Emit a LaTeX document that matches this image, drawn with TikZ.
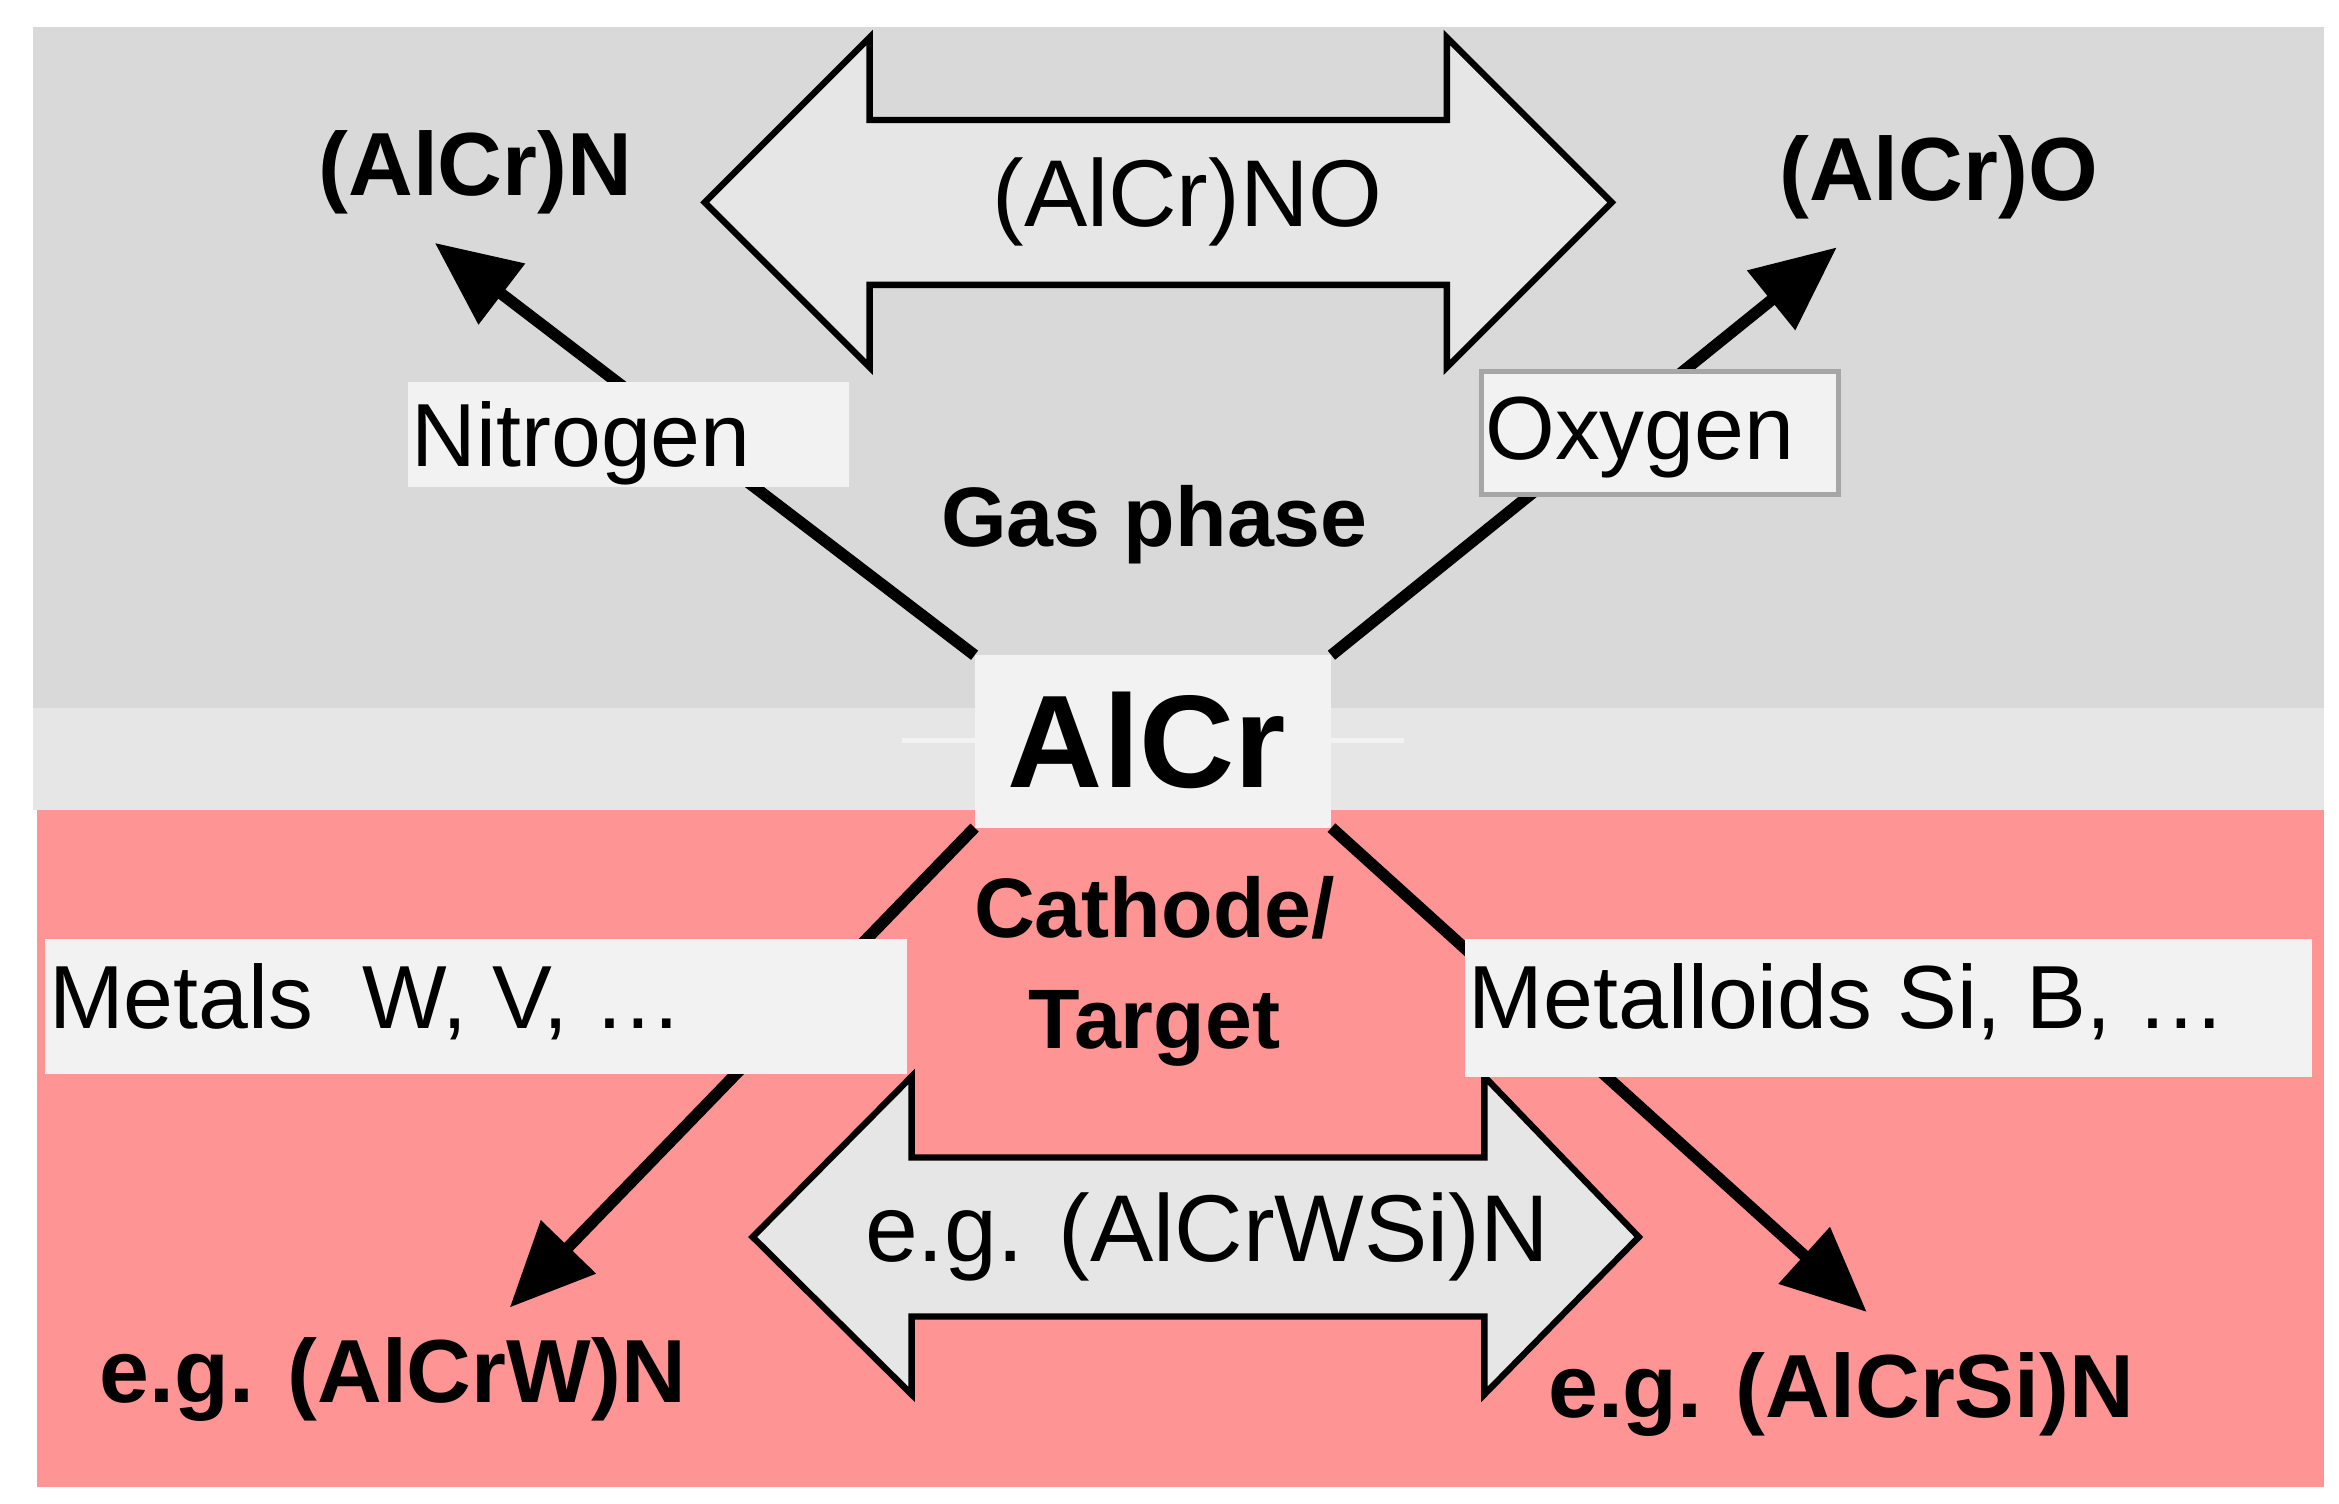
\documentclass[tikz,border=0pt]{standalone}
\usepackage{fontspec}
\setmainfont{Liberation Sans}
\usetikzlibrary{arrows.meta}
\definecolor{gastop}{HTML}{D9D9D9}
\definecolor{band}{HTML}{E6E6E6}
\definecolor{pinkbg}{HTML}{FF9494}
\definecolor{boxf}{HTML}{F2F2F2}
\begin{document}
\begin{tikzpicture}[x=0.01cm,y=-0.01cm,
  lbl/.style={fill=boxf,anchor=west,inner sep=0pt,font=\fontsize{17}{20}\selectfont},
  bt/.style={font=\bfseries\fontsize{17}{20}\selectfont},
  big/.style={fill=band,draw=black,line width=1.2pt,line join=miter},
  arr/.style={line width=2.2pt,-{Triangle[length=16pt,width=14pt]}}]
\useasboundingbox (0,0) rectangle (1560,1003);
\fill[white] (0,0) rectangle (1560,1003);
\fill[gastop] (22,18) rectangle (1550,472);
\fill[band] (22,472) rectangle (1550,540);
\fill[pinkbg] (25,540) rectangle (1550,992);
% top double arrow
\draw[big] (470,135) -- (580,25) -- (580,80) -- (965,80) -- (965,25) -- (1075,135) -- (965,245) -- (965,190) -- (580,190) -- (580,245) -- cycle;
\node[font=\fontsize{18}{20}\selectfont] (ano) at (792,135) {(AlCr)NO};
% bottom double arrow
\draw[big] (502,825) -- (608,718) -- (608,772) -- (990,772) -- (990,718) -- (1093,825) -- (990,930) -- (990,878) -- (608,878) -- (608,930) -- cycle;
\node[font=\fontsize{18}{20}\selectfont] (awsi) at (805,825) {e.g. (AlCrWSi)N};
% centre box
\node[fill=boxf,minimum width=238\pgflinewidth,inner sep=0pt] (alcr) at (769,494) {};
\path (650,437) coordinate (nw) (888,437) coordinate (ne) (650,552) coordinate (sw) (888,552) coordinate (se);
\coordinate (tN) at (290,162);
\coordinate (tO) at (1225,165);
\coordinate (tW) at (340,872);
\coordinate (tSi) at (1245,875);
\draw[arr] (nw) -- (tN);
\draw[arr] (ne) -- (tO);
\draw[arr] (sw) -- (tW);
\draw[arr] (se) -- (tSi);
\fill[boxf] (nw) rectangle (se);
\node[font=\bfseries\fontsize{25}{28}\selectfont] (alcrt) at (765,494) {AlCr};
% label boxes
\fill[boxf] (272,255) rectangle (566,325);
\node[lbl] (nit) at (274,296) {Nitrogen};
\draw[fill=boxf,draw=gray!70,line width=1pt] (988,248) rectangle (1226,330);
\node[lbl] (oxy) at (990,292) {Oxygen};
\fill[boxf] (30,626) rectangle (605,716);
\node[lbl] (met) at (32,668) {Metals\ \ W, V, \ldots};
\fill[boxf] (977,626) rectangle (1542,718);
\node[lbl] (mld) at (979,668) {Metalloids Si, B, \ldots};
% texts
\node[bt] (n) at (317,115) {(AlCr)N};
\node[bt] (o) at (1293,118) {(AlCr)O};
\node[bt,font=\bfseries\fontsize{16}{19}\selectfont] (gas) at (770,350) {Gas phase};
\node[bt,align=center,font=\bfseries\fontsize{16}{21}\selectfont] (cat) at (770,648) {Cathode/\\Target};
\node[bt] (w) at (262,920) {e.g. (AlCrW)N};
\node[bt] (si) at (1228,930) {e.g. (AlCrSi)N};
\end{tikzpicture}
\end{document}
